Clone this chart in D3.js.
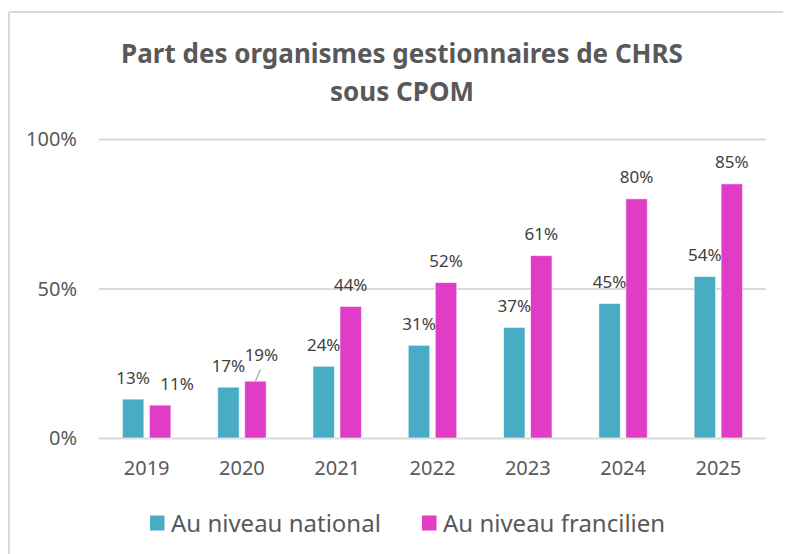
<!DOCTYPE html>
<html lang="fr">
<head>
    <meta charset="UTF-8">
    <title>Part des organismes gestionnaires de CHRS sous CPOM</title>
    <script src="https://d3js.org/d3.v7.min.js"></script>
    <style>
        body {
            margin: 0;
            background: #fff;
            font-family: "Noto Sans", "Open Sans", sans-serif;
        }
        .grid line {
            stroke: #d9d9d9;
            stroke-width: 2;
        }
        .grid path {
            stroke-width: 0;
        }
        .tick-label {
            fill: #595959;
            font-size: 20px;
        }
        .data-label {
            fill: #404040;
            font-size: 17px;
            text-anchor: middle;
        }
        .title {
            fill: #595959;
            font-size: 26px;
            font-weight: bold;
            text-anchor: middle;
        }
        .legend-label {
            fill: #595959;
            font-size: 24px;
        }
    </style>
</head>
<body>
    <svg width="787" height="554"></svg>
    <script>
        // Données
        const years = ["2019", "2020", "2021", "2022", "2023", "2024", "2025"];
        const national = [13, 17, 24, 31, 37, 45, 54];
        const francilien = [11, 19, 44, 52, 61, 80, 85];
        const seriesNames = ["Au niveau national", "Au niveau francilien"];
        const seriesColors = ["#48adc4", "#e03cc6"];
        const yTicks = [0, 50, 100];

        // décalages manuels des étiquettes (comme dans le graphique Excel)
        const labelNudge = {
            "1-2019": { dx: 17, dy: 0, leader: false },
            "1-2020": { dx: 6, dy: -5, leader: true }
        };

        const data = years.map((y, i) => ({ year: y, values: [national[i], francilien[i]] }));

        const margin = { top: 139, right: 21, bottom: 116, left: 99 };
        const width = 787 - margin.left - margin.right;
        const height = 554 - margin.top - margin.bottom;

        const root = d3.select("svg");

        // cadre
        root.append("line")
            .attr("x1", 9).attr("x2", 783)
            .attr("y1", 12).attr("y2", 12)
            .attr("stroke", "#d9d9d9").attr("stroke-width", 2);
        root.append("line")
            .attr("x1", 9).attr("x2", 9)
            .attr("y1", 12).attr("y2", 554)
            .attr("stroke", "#d9d9d9").attr("stroke-width", 2);

        // titre
        root.append("text")
            .attr("class", "title")
            .attr("x", 402)
            .attr("y", 63)
            .text("Part des organismes gestionnaires de CHRS");
        root.append("text")
            .attr("class", "title")
            .attr("x", 402)
            .attr("y", 101)
            .text("sous CPOM");

        const svg = root.append("g")
            .attr("transform", `translate(${margin.left},${margin.top})`);

        const x = d3.scaleBand()
            .domain(years)
            .range([0, width])
            .paddingInner(0)
            .paddingOuter(0);

        const barW = 21.5;
        const gap = 5.5;
        const xSub = d3.scaleBand()
            .domain([0, 1])
            .range([x.bandwidth() / 2 - barW - gap / 2, x.bandwidth() / 2 + barW + gap / 2])
            .paddingInner(gap / (barW + gap));

        const y = d3.scaleLinear()
            .domain([0, 100])
            .range([height, 0]);

        // grille
        svg.append("g")
            .attr("class", "grid")
            .call(d3.axisLeft(y).tickValues(yTicks).tickSize(-width).tickFormat(""));

        // étiquettes axe Y
        svg.selectAll(".y-label")
            .data(yTicks)
            .enter()
            .append("text")
            .attr("class", "tick-label")
            .attr("x", -22)
            .attr("y", d => y(d))
            .attr("dy", "0.36em")
            .attr("text-anchor", "end")
            .text(d => d + "%");

        // étiquettes axe X
        svg.selectAll(".x-label")
            .data(years)
            .enter()
            .append("text")
            .attr("class", "tick-label")
            .attr("x", d => x(d) + x.bandwidth() / 2)
            .attr("y", height + 30)
            .attr("dy", "0.36em")
            .attr("text-anchor", "middle")
            .text(d => d);

        // barres
        const groups = svg.selectAll(".year")
            .data(data)
            .enter()
            .append("g")
            .attr("transform", d => `translate(${x(d.year)},0)`);

        groups.selectAll("rect")
            .data(d => d.values.map((v, s) => ({ year: d.year, s, v })))
            .enter()
            .append("rect")
            .attr("x", d => xSub(d.s))
            .attr("y", d => y(d.v))
            .attr("width", xSub.bandwidth())
            .attr("height", d => height - y(d.v))
            .attr("fill", d => seriesColors[d.s])
            .attr("stroke", "#fff")
            .attr("stroke-opacity", 0.6)
            .attr("stroke-width", 1);

        // étiquettes de données
        const labels = groups.selectAll(".data-label")
            .data(d => d.values.map((v, s) => ({ year: d.year, s, v })))
            .enter();

        labels.append("text")
            .attr("class", "data-label")
            .attr("x", d => xSub(d.s) + xSub.bandwidth() / 2 + ((labelNudge[d.s + "-" + d.year] || {}).dx || 0))
            .attr("y", d => y(d.v) - 21.5 + ((labelNudge[d.s + "-" + d.year] || {}).dy || 0))
            .attr("dy", "0.36em")
            .text(d => d.v + "%");

        labels.filter(d => (labelNudge[d.s + "-" + d.year] || {}).leader)
            .append("line")
            .attr("x1", d => xSub(d.s) + xSub.bandwidth() / 2)
            .attr("y1", d => y(d.v))
            .attr("x2", d => xSub(d.s) + xSub.bandwidth() / 2 + 5)
            .attr("y2", d => y(d.v) - 12)
            .attr("stroke", "#a6a6a6")
            .attr("stroke-width", 1.2);

        // légende
        const legend = root.append("g")
            .attr("transform", "translate(150,523)");
        const legendX = [0, 272];
        seriesNames.forEach((name, i) => {
            legend.append("rect")
                .attr("x", legendX[i])
                .attr("y", -7.5)
                .attr("width", 14.5)
                .attr("height", 15)
                .attr("fill", seriesColors[i]);
            legend.append("text")
                .attr("class", "legend-label")
                .attr("x", legendX[i] + 21)
                .attr("y", 0)
                .attr("dy", "0.36em")
                .text(name);
        });
    </script>
</body>
</html>
